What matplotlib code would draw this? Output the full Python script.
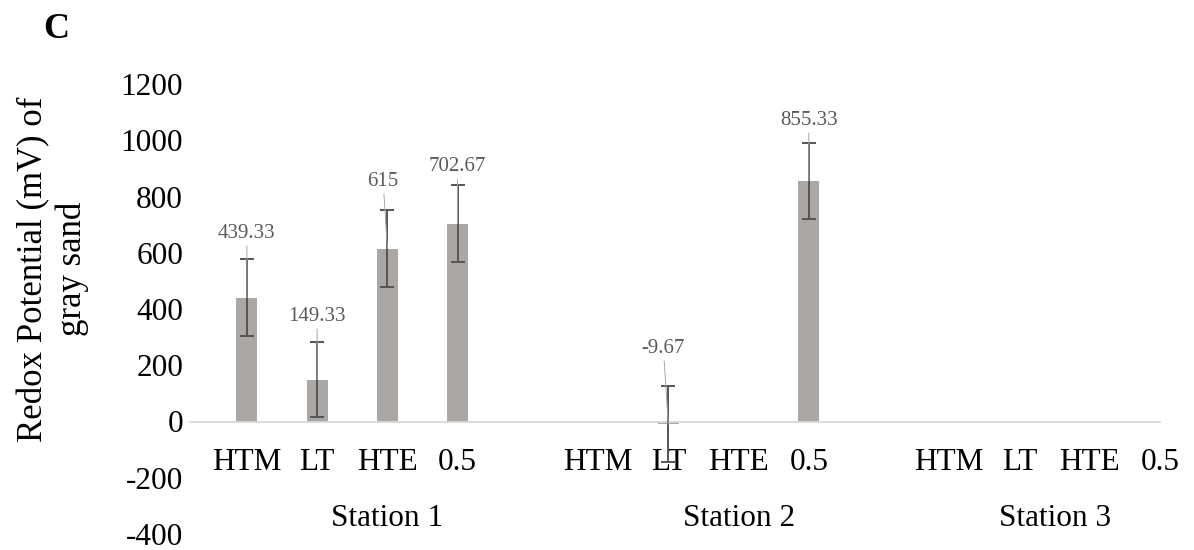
import numpy as np
import matplotlib
matplotlib.use("Agg")
import matplotlib.pyplot as plt

plt.rcParams['font.family'] = ['Liberation Serif', 'DejaVu Serif']
plt.rcParams['axes.unicode_minus'] = False

# Data
stations = ['Station 1', 'Station 2', 'Station 3']
sites = ['HTM', 'LT', 'HTE', '0.5']
redox_s1 = [439.33, 149.33, 615, 702.67]
redox_s2 = [np.nan, -9.67, np.nan, 855.33]
redox_s3 = [np.nan, np.nan, np.nan, np.nan]
err_s1 = [137, 135, 138, 137]
err_s2 = [np.nan, 136, np.nan, 136]
err_s3 = [np.nan, np.nan, np.nan, np.nan]

# label placement (data units) for the dragged Excel labels
label_y_s1 = [668, 373, 853, 906]
label_y_s2 = [np.nan, 259, np.nan, 1069]
label_dx_s1 = [0, 0, -0.06, 0]
label_dx_s2 = [0, -0.07, 0, 0]

redox = [redox_s1, redox_s2, redox_s3]
errs = [err_s1, err_s2, err_s3]
label_y = [label_y_s1, label_y_s2, [np.nan] * 4]
label_dx = [label_dx_s1, label_dx_s2, [0] * 4]

bar_color = '#aba7a5'
err_color = '#555555'
lab_color = '#595959'

fig = plt.figure(figsize=(11.94, 5.5), dpi=100)
ax = fig.add_axes([190 / 1194, 1 - 534 / 550, (1160 - 190) / 1194, (534 - 84) / 550])

gap = len(sites) + 1
xticks, xlabels = [], []
for g, st in enumerate(stations):
    for i, site in enumerate(sites):
        x = g * gap + i
        xticks.append(x)
        xlabels.append(site)
        v = redox[g][i]
        if np.isnan(v):
            continue
        ax.bar(x, v, width=0.3, color=bar_color, zorder=2)
        ax.errorbar(x, v, yerr=errs[g][i], color=err_color, lw=1.4,
                    capsize=4.7, capthick=1.4, zorder=3)
        ly = label_y[g][i]
        ax.annotate(f'{v:g}', xy=(x, v), xytext=(x + label_dx[g][i], ly),
                    ha='center', va='center', fontsize=15, color=lab_color,
                    arrowprops=dict(arrowstyle='-', color='#a6a6a6', lw=0.7,
                                    shrinkA=0, shrinkB=0), zorder=4)

station_x = [2, 7, 11.5]
for sx, st in zip(station_x, stations):
    ax.text(sx, -344, st, ha='center', va='center', fontsize=22.5)

ax.set_xlim(-0.81, 13.0)
ax.set_ylim(-400, 1200)
ax.set_yticks(range(-400, 1201, 200))
ax.set_xticks(xticks)
ax.set_xticklabels(xlabels)
ax.tick_params(axis='x', length=0, pad=19, labelsize=22.5)
ax.tick_params(axis='y', length=0, pad=5, labelsize=22.5)

for s in ['top', 'right', 'left']:
    ax.spines[s].set_visible(False)
ax.spines['bottom'].set_position(('data', 0))
ax.spines['bottom'].set_color('#d9d9d9')
ax.spines['bottom'].set_linewidth(1.3)

fig.text(53 / 1194, 1 - 269 / 550, 'Redox Potential (mV) of\ngray sand',
         rotation=90, ha='center', va='center', fontsize=25,
         multialignment='center')
fig.text(56 / 1194, 1 - 30 / 550, 'C', ha='center', va='center',
         fontsize=26, fontweight='bold')

fig.savefig('out.png', dpi=100)
